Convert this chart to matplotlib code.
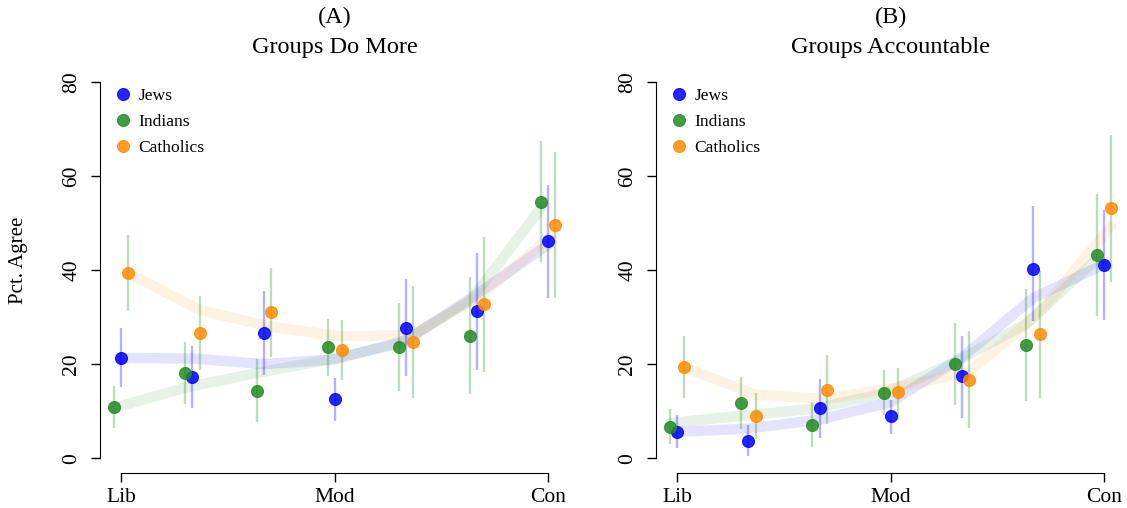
import numpy as np
import matplotlib.pyplot as plt

plt.rcParams['font.family'] = ['Liberation Serif', 'DejaVu Serif']

# ideology scale positions
ideo = np.arange(1, 8)
tick_pos = [1, 4, 7]
tick_lab = ['Lib', 'Mod', 'Con']
groups = ['Jews', 'Indians', 'Catholics']

# ---- panel A: Groups Do More ----
a_jews = [21.3, 17.2, 26.7, 12.5, 27.7, 31.2, 46.1]
a_jews_lo = [15.1, 10.7, 17.7, 8.0, 17.4, 18.8, 34.1]
a_jews_hi = [27.6, 23.8, 35.6, 17.0, 38.0, 43.7, 58.1]
a_jews_fit = [21.3, 21.2, 20.0, 21.0, 25.0, 34.9, 45.4]

a_ind = [10.9, 18.2, 14.3, 23.6, 23.6, 26.0, 54.5]
a_ind_lo = [6.5, 11.6, 7.6, 17.4, 14.3, 13.7, 41.6]
a_ind_hi = [15.4, 24.8, 21.0, 29.6, 32.9, 38.4, 67.5]
a_ind_fit = [10.7, 15.0, 18.1, 20.9, 24.3, 33.4, 53.2]

a_cath = [39.3, 26.5, 31.0, 23.0, 24.6, 32.7, 49.5]
a_cath_lo = [31.2, 18.8, 21.6, 16.6, 12.8, 18.3, 34.0]
a_cath_hi = [47.4, 34.4, 40.4, 29.3, 36.5, 47.1, 65.0]
a_cath_fit = [39.3, 31.5, 27.9, 25.9, 26.2, 35.2, 47.9]

# ---- panel B: Groups Accountable ----
b_jews = [5.6, 3.6, 10.6, 9.0, 17.4, 40.3, 41.1]
b_jews_lo = [2.2, 0.4, 4.4, 5.1, 8.6, 29.1, 29.3]
b_jews_hi = [9.2, 7.0, 16.9, 12.3, 26.0, 53.5, 52.8]
b_jews_fit = [5.6, 6.3, 8.2, 11.9, 21.4, 34.0, 41.2]

b_ind = [6.6, 11.8, 7.1, 13.9, 20.0, 24.1, 43.2]
b_ind_lo = [3.1, 6.3, 2.3, 9.1, 11.4, 12.1, 30.3]
b_ind_hi = [10.4, 17.3, 11.9, 18.8, 28.7, 36.0, 56.1]
b_ind_fit = [7.5, 9.0, 10.5, 13.7, 20.4, 28.5, 42.3]

b_cath = [19.3, 8.9, 14.6, 14.0, 16.7, 26.3, 53.1]
b_cath_lo = [12.8, 4.0, 7.3, 8.2, 6.5, 12.8, 37.5]
b_cath_hi = [26.0, 13.8, 21.9, 19.2, 27.1, 39.8, 68.6]
b_cath_fit = [19.3, 13.5, 12.6, 15.1, 18.3, 31.0, 49.3]

cols = ['#0000ff', '#228b22', '#ff8c00']
bar_cols = ['#0000ff', '#228b22', '#228b22']   # catholics bars are green in the original
offsets = [0.0, -0.1, 0.1]

panels = [
    ("(A)", "Groups Do More",
     [a_jews, a_ind, a_cath], [a_jews_lo, a_ind_lo, a_cath_lo],
     [a_jews_hi, a_ind_hi, a_cath_hi], [a_jews_fit, a_ind_fit, a_cath_fit]),
    ("(B)", "Groups Accountable",
     [b_jews, b_ind, b_cath], [b_jews_lo, b_ind_lo, b_cath_lo],
     [b_jews_hi, b_ind_hi, b_cath_hi], [b_jews_fit, b_ind_fit, b_cath_fit]),
]

fig = plt.figure(figsize=(11.27, 5.08), dpi=100)
ax_pos = [[100 / 1127, 0.0683, 469.6 / 1127, 0.8006],
          [656 / 1127, 0.0683, 469.3 / 1127, 0.8006]]

for k, (lab, title, means, lows, highs, fits) in enumerate(panels):
    ax = fig.add_axes(ax_pos[k])
    for g in range(3):
        x = ideo + offsets[g]
        ax.plot(x, fits[g], color=cols[g], alpha=0.11, lw=7.5,
                solid_capstyle='round', solid_joinstyle='round', zorder=1)
    for g in range(3):
        x = ideo + offsets[g]
        ax.vlines(x, lows[g], highs[g], color=bar_cols[g], alpha=0.3, lw=1.7, zorder=2)
        ax.plot(x, means[g], 'o', ms=8.6, color=cols[g], alpha=0.85,
                mec=cols[g], mew=0.8, zorder=3, label=groups[g])

    ax.set_xlim(0.7, 7.3)
    ax.set_ylim(-3.2, 83.2)
    for s in ['top', 'right']:
        ax.spines[s].set_visible(False)
    ax.spines['left'].set_bounds(0, 80)
    ax.spines['bottom'].set_bounds(1, 7)
    ax.set_yticks([0, 20, 40, 60, 80])
    ax.set_yticklabels(['0', '20', '40', '60', '80'], rotation=90, va='center')
    ax.set_xticks(tick_pos)
    ax.set_xticklabels(tick_lab)
    ax.tick_params(axis='both', labelsize=15.5, length=6.4, width=1.0)
    ax.tick_params(axis='x', pad=4)
    ax.tick_params(axis='y', pad=7)
    if k == 0:
        ax.set_ylabel('Pct. Agree', fontsize=15, va='center')
        ax.yaxis.set_label_coords(-0.174, 0.524)

    ax.legend(loc='upper left', bbox_to_anchor=(0.011, 0.965), frameon=False,
              fontsize=12.6, handletextpad=0.3, labelspacing=0.55,
              handlelength=1.2, borderaxespad=0.0)

    cx = ax_pos[k][0] + ax_pos[k][2] / 2
    fig.text(cx, 1 - 17 / 508, lab, ha='center', va='center', fontsize=17.5)
    fig.text(cx, 1 - 48 / 508, title, ha='center', va='center', fontsize=17.5)

plt.savefig('out.png', dpi=100)
